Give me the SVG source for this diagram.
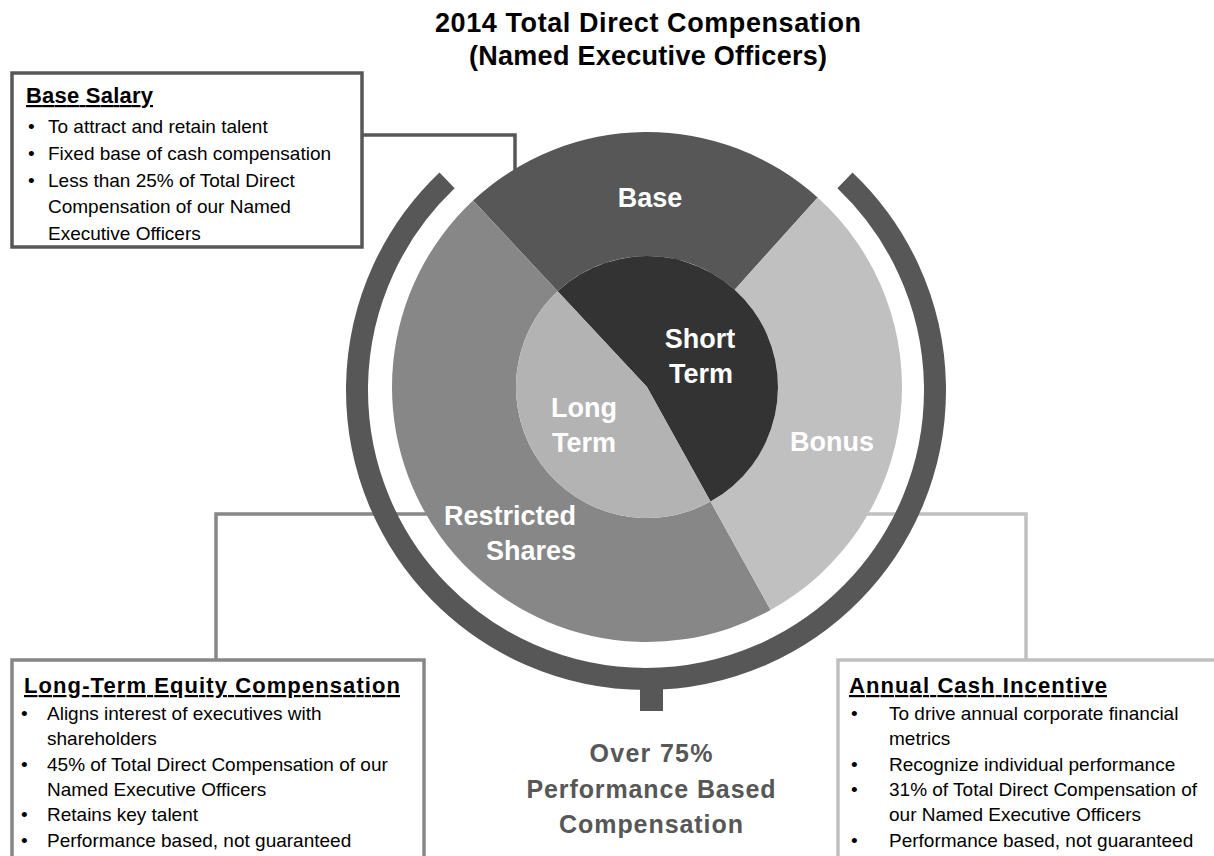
<svg xmlns="http://www.w3.org/2000/svg" width="1214" height="856" viewBox="0 0 1214 856">
<style>
text{font-family:"Liberation Sans",Arial,sans-serif}
.title{font-size:27px;font-weight:bold;fill:#000;text-anchor:middle}
.hdr{font-size:22px;font-weight:bold;fill:#000;text-decoration:underline}
.body{font-size:19px;fill:#000}
.lbl{font-size:27px;font-weight:bold;fill:#fff}
.mid{text-anchor:middle}
.end{text-anchor:end}
.perf{font-size:25px;font-weight:bold;fill:#575757;text-anchor:middle}
.box{fill:#fff;stroke-width:3.5}
.conn{fill:none;stroke-width:3.5}
</style>
<rect width="1214" height="856" fill="#fff"/>

<g id="title">
<text class="title" x="648" y="32" textLength="426" lengthAdjust="spacing">2014 Total Direct Compensation</text>
<text class="title" x="648" y="65" textLength="358" lengthAdjust="spacing">(Named Executive Officers)</text>
</g>

<g id="connectors">
<path class="conn" stroke="#575757" d="M362 135 H515 V185"/>
<path class="conn" stroke="#878787" d="M216 660 V514 H440"/>
<path class="conn" stroke="#c0c0c0" d="M1026 660 V514 H860"/>
</g>

<g id="ring">
<path d="M447.07 180.37 A289 289 0 1 0 844.93 180.37" fill="none" stroke="#575757" stroke-width="22"/>
<rect x="640" y="684" width="23" height="27" fill="#575757"/>
</g>

<g id="chart">
<path id="wedge-base" fill="#575757" d="M817.63 197.50 A255 255 0 0 0 473.09 200.51 L557.66 291.19 A131 131 0 0 1 734.66 289.65 Z"/>
<path id="wedge-restricted" fill="#878787" d="M473.09 200.51 A255 255 0 0 0 770.63 610.03 L710.51 501.58 A131 131 0 0 1 557.66 291.19 Z"/>
<path id="wedge-bonus" fill="#c0c0c0" d="M770.63 610.03 A255 255 0 0 0 817.63 197.50 L734.66 289.65 A131 131 0 0 1 710.51 501.58 Z"/>
<path id="wedge-short" fill="#333333" d="M647 387 L710.51 501.58 A131 131 0 1 0 557.66 291.19 Z"/>
<path id="wedge-long" fill="#b3b3b3" d="M647 387 L557.66 291.19 A131 131 0 0 0 710.51 501.58 Z"/>
<text class="lbl mid" x="650" y="207">Base</text>
<text class="lbl mid" x="700" y="348">Short</text>
<text class="lbl mid" x="701" y="383">Term</text>
<text class="lbl mid" x="584" y="417">Long</text>
<text class="lbl mid" x="584" y="452">Term</text>
<text class="lbl mid" x="832" y="451">Bonus</text>
<text class="lbl end" x="576" y="525">Restricted</text>
<text class="lbl end" x="576" y="560">Shares</text>
</g>

<g id="node-base-salary">
<rect class="box" stroke="#575757" x="12" y="73" width="350" height="174"/>
<text class="hdr" x="26" y="103" textLength="127" lengthAdjust="spacing">Base Salary</text>
<text class="body" x="28" y="133">•</text><text class="body" x="48" y="133">To attract and retain talent</text>
<text class="body" x="28" y="160">•</text><text class="body" x="48" y="160">Fixed base of cash compensation</text>
<text class="body" x="28" y="186.5">•</text><text class="body" x="48" y="186.5">Less than 25% of Total Direct</text>
<text class="body" x="48" y="213">Compensation of our Named</text>
<text class="body" x="48" y="239.5">Executive Officers</text>
</g>

<g id="node-long-term">
<rect class="box" stroke="#878787" x="12" y="660" width="412" height="220"/>
<text class="hdr" x="24" y="693" textLength="376" lengthAdjust="spacing">Long-Term Equity Compensation</text>
<text class="body" x="21" y="720">•</text><text class="body" x="47" y="720">Aligns interest of executives with</text>
<text class="body" x="47" y="745">shareholders</text>
<text class="body" x="21" y="770.5">•</text><text class="body" x="47" y="770.5">45% of Total Direct Compensation of our</text>
<text class="body" x="47" y="796">Named Executive Officers</text>
<text class="body" x="21" y="821">•</text><text class="body" x="47" y="821">Retains key talent</text>
<text class="body" x="21" y="846.5">•</text><text class="body" x="47" y="846.5">Performance based, not guaranteed</text>
</g>

<g id="node-annual">
<rect class="box" stroke="#c0c0c0" x="838" y="660" width="400" height="220"/>
<text class="hdr" x="849" y="693" textLength="258" lengthAdjust="spacing">Annual Cash Incentive</text>
<text class="body" x="851" y="720">•</text><text class="body" x="889" y="720">To drive annual corporate financial</text>
<text class="body" x="889" y="745">metrics</text>
<text class="body" x="851" y="770.5">•</text><text class="body" x="889" y="770.5">Recognize individual performance</text>
<text class="body" x="851" y="796">•</text><text class="body" x="889" y="796">31% of Total Direct Compensation of</text>
<text class="body" x="889" y="821">our Named Executive Officers</text>
<text class="body" x="851" y="846.5">•</text><text class="body" x="889" y="846.5">Performance based, not guaranteed</text>
</g>

<g id="performance-note">
<text class="perf" x="651" y="762" textLength="123" lengthAdjust="spacing">Over 75%</text>
<text class="perf" x="651" y="798" textLength="249" lengthAdjust="spacing">Performance Based</text>
<text class="perf" x="651" y="833" textLength="184" lengthAdjust="spacing">Compensation</text>
</g>
</svg>
